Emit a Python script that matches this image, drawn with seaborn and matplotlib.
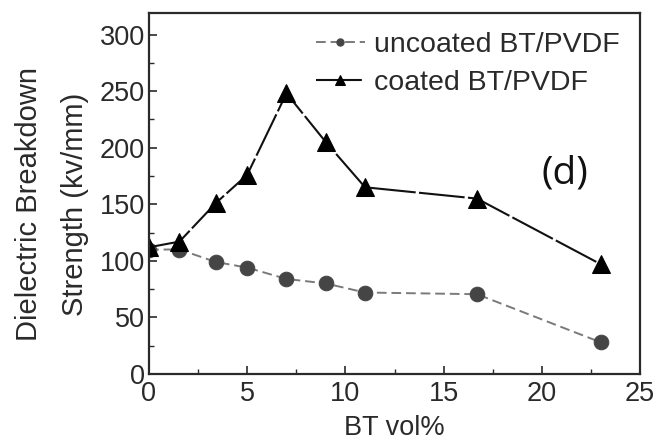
import matplotlib
matplotlib.use("Agg")
import matplotlib.pyplot as plt
from matplotlib.ticker import MultipleLocator
import seaborn as sns
import pandas as pd

# BT loading (vol%) and breakdown strength (kV/mm)
bt_vol = [0, 1.55, 3.4, 5.0, 7.0, 9.0, 11.0, 16.7, 23.0]
uncoated = [110, 110, 99, 94, 84, 80, 72, 70.5, 28]
coated = [112, 117, 151, 176, 248, 205, 165, 155, 97]
series_names = ["uncoated BT/PVDF", "coated BT/PVDF"]

sns.set_theme(style="ticks")
plt.rcParams["font.family"] = ["Liberation Sans", "DejaVu Sans"]

df_u = pd.DataFrame({"x": bt_vol, "y": uncoated})
df_c = pd.DataFrame({"x": bt_vol, "y": coated})

fig = plt.figure(figsize=(6.57, 4.44), dpi=100)
ax = fig.add_axes([149 / 657, 1 - 374 / 444, 491 / 657, 361 / 444])

sns.lineplot(data=df_u, x="x", y="y", ax=ax, color="#7a7a7a", lw=1.4,
             linestyle=(0, (5, 2.5)), marker="o", markersize=10.5,
             markerfacecolor="#454545", markeredgecolor="#454545",
             label=series_names[0])
sns.lineplot(data=df_c, x="x", y="y", ax=ax, color="#111111", lw=1.5,
             linestyle=(0, (22, 1.6)), marker="^", markersize=13,
             markerfacecolor="black", markeredgecolor="black",
             label=series_names[1])

ax.set_xlim(0, 25)
ax.set_ylim(0, 319)
ax.xaxis.set_major_locator(MultipleLocator(5))
ax.xaxis.set_minor_locator(MultipleLocator(2.5))
ax.yaxis.set_major_locator(MultipleLocator(50))
ax.yaxis.set_minor_locator(MultipleLocator(25))
ax.tick_params(which="major", direction="in", length=6, width=1.2,
               labelsize=19.5, colors="#2a2a2a", pad=5)
ax.tick_params(axis="y", which="major", pad=3)
ax.tick_params(which="minor", direction="in", length=3.5, width=1.0,
               colors="#2a2a2a")
for s in ax.spines.values():
    s.set_linewidth(1.6)
    s.set_color("#2a2a2a")

ax.set_xlabel("BT vol%", fontsize=19.5, color="#2a2a2a", labelpad=6)
ax.set_ylabel("Dielectric Breakdown\nStrength (kv/mm)", fontsize=21,
              color="#2a2a2a", linespacing=1.8)
ax.yaxis.set_label_coords(-0.122, 0.47)

leg = ax.legend(loc="upper left", bbox_to_anchor=(0.316, 0.98), frameon=False,
                fontsize=20.5, handlelength=1.75, handletextpad=0.3,
                labelspacing=0.42, borderaxespad=0.2, markerscale=0.5,
                borderpad=0.2)
for t in leg.get_texts():
    t.set_color("#2a2a2a")

ax.text(0.848, 0.555, "(d)", transform=ax.transAxes, fontsize=28,
        family=["Open Sans", "DejaVu Sans"], ha="center", va="center",
        color="#111111")

fig.savefig("out.png", dpi=100)
